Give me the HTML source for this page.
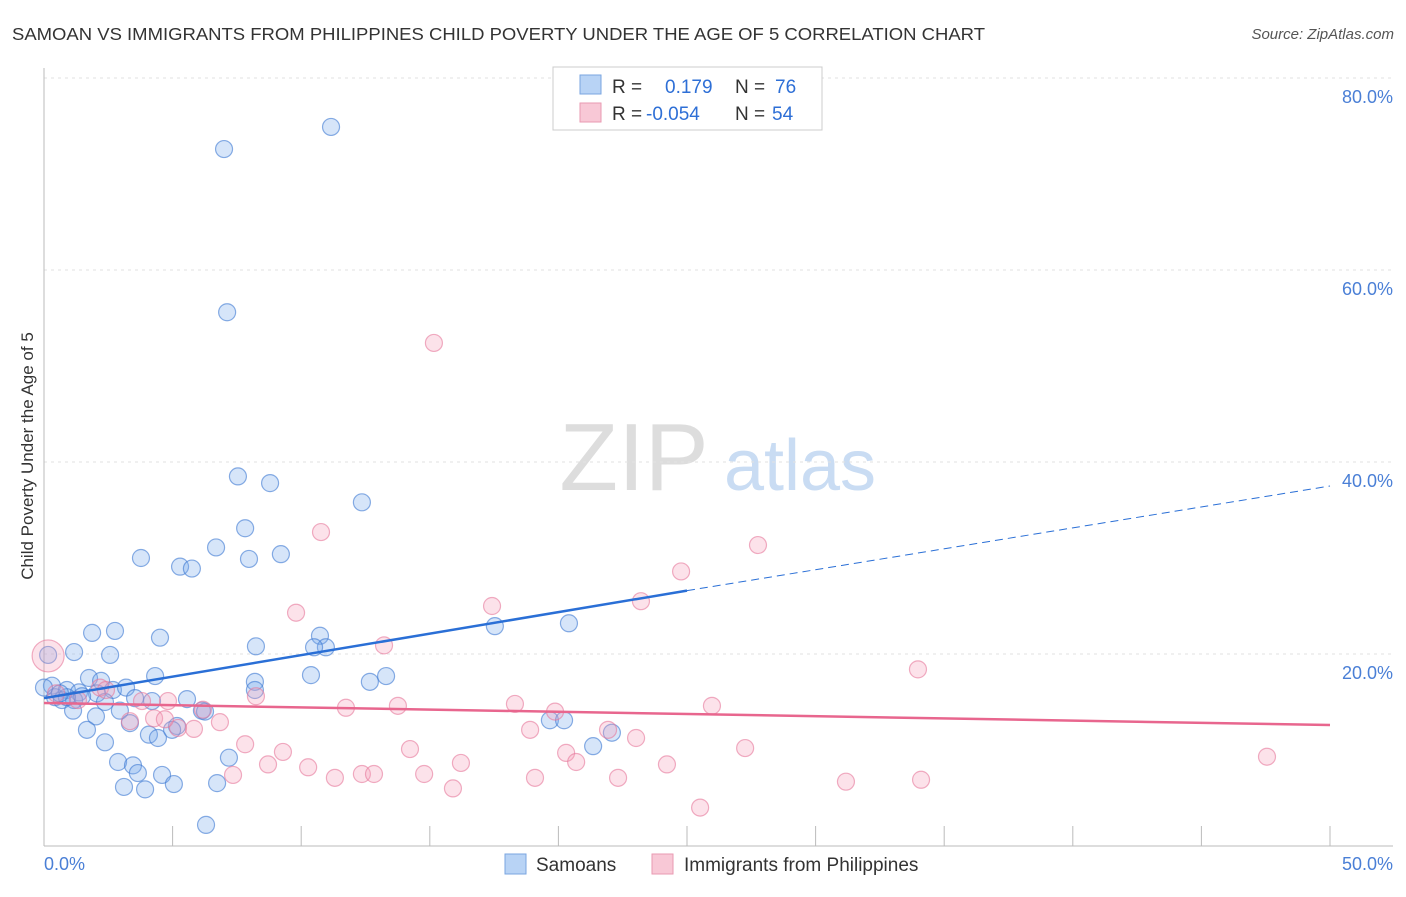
<!DOCTYPE html>
<html><head><meta charset="utf-8"><style>
body{margin:0;background:#fff;font-family:"Liberation Sans",sans-serif}
svg text{font-family:"Liberation Sans",sans-serif}
</style></head><body>
<svg width="1406" height="892" xmlns="http://www.w3.org/2000/svg">
<text x="12" y="40" font-size="17.5" fill="#333" textLength="973" lengthAdjust="spacingAndGlyphs">SAMOAN VS IMMIGRANTS FROM PHILIPPINES CHILD POVERTY UNDER THE AGE OF 5 CORRELATION CHART</text>
<text x="1394" y="39" font-size="15" fill="#555" text-anchor="end" font-style="italic">Source: ZipAtlas.com</text>
<text x="634" y="490" font-size="96" fill="#ddd" font-family="Liberation Serif" text-anchor="middle">ZIP</text>
<text x="800" y="490" font-size="72" fill="#c9dcf3" text-anchor="middle">atlas</text>
<text transform="translate(33,456) rotate(-90)" font-size="17" fill="#333" text-anchor="middle">Child Poverty Under the Age of 5</text>
<g id="grid"></g><g id="marks"></g>
<g>
<rect x="553" y="67" width="269" height="63" fill="#fff" stroke="#ccc"/>
<rect x="580" y="75" width="21" height="19" fill="#b8d3f5" stroke="#7aa6e0"/>
<rect x="580" y="103" width="21" height="19" fill="#f8c8d6" stroke="#e99ab2"/>
<text x="612" y="93" font-size="19" fill="#333">R =</text>
<text x="665" y="93" font-size="19" fill="#2e6fd6">0.179</text>
<text x="735" y="93" font-size="19" fill="#333">N =</text>
<text x="775" y="93" font-size="19" fill="#2e6fd6">76</text>
<text x="612" y="120" font-size="19" fill="#333">R =</text>
<text x="646" y="120" font-size="19" fill="#2e6fd6">-0.054</text>
<text x="735" y="120" font-size="19" fill="#333">N =</text>
<text x="772" y="120" font-size="19" fill="#2e6fd6">54</text>
</g>
<g>
<rect x="505" y="854" width="21" height="20" fill="#b8d3f5" stroke="#7aa6e0"/>
<text x="536" y="871" font-size="19" fill="#333">Samoans</text>
<rect x="652" y="854" width="21" height="20" fill="#f8c8d6" stroke="#e99ab2"/>
<text x="684" y="871" font-size="19" fill="#333">Immigrants from Philippines</text>
</g>
</svg>
<script>
const blueX=[11.16,7.0,7.12,7.54,8.79,12.36,7.82,6.69,3.77,7.97,9.21,5.29,5.75,10.73,10.96,10.5,4.51,2.76,1.87,8.24,17.53,20.41,1.17,2.57,4.32,1.75,2.22,10.38,8.2,12.67,13.3,0.31,0.89,1.36,2.68,3.19,2.06,0.43,0.7,1.17,2.37,3.54,4.2,5.56,6.14,1.13,2.02,2.95,3.34,5.17,1.67,4.08,4.43,2.37,7.19,2.88,3.46,3.65,4.59,3.11,3.93,5.05,6.73,6.3,19.67,20.22,21.35,22.08,0.16,0.0,1.48,4.98,0.89,0.62,6.26,8.2];
const blueY=[74.9,72.6,55.6,38.5,37.8,35.8,33.1,31.1,30.0,29.9,30.4,29.1,28.9,21.9,20.7,20.7,21.7,22.4,22.2,20.8,22.9,23.2,20.2,19.9,17.7,17.5,17.2,17.8,17.1,17.1,17.7,16.7,16.25,16.0,16.25,16.5,15.9,15.5,15.2,15.2,15.0,15.4,15.1,15.3,14.1,14.1,13.5,14.1,12.8,12.5,12.1,11.6,11.25,10.8,9.2,8.75,8.4,7.6,7.4,6.15,5.9,6.45,6.55,2.2,13.1,13.1,10.4,11.8,19.9,16.5,15.6,12.1,15.5,15.9,14.0,16.25];
const pinkX=[15.16,10.77,27.76,24.77,23.21,17.42,9.8,13.22,33.98,0.16,8.24,3.81,4.82,2.18,1.32,6.18,11.74,13.76,18.31,25.97,19.87,4.28,3.34,6.84,5.83,5.21,18.9,21.93,23.02,7.82,9.29,14.23,27.26,20.3,8.71,10.27,16.21,20.69,24.22,7.35,11.31,12.36,12.83,14.78,19.09,22.32,15.9,31.18,34.1,47.55,25.51,4.7,2.41,0.47];
const pinkY=[52.4,32.7,31.35,28.6,25.5,25.0,24.3,20.9,18.4,19.8,15.6,15.1,15.1,16.5,15.2,14.2,14.4,14.6,14.8,14.6,14.0,13.3,13.0,12.9,12.2,12.3,12.1,12.1,11.25,10.6,9.8,10.1,10.2,9.7,8.5,8.2,8.65,8.75,8.5,7.4,7.1,7.5,7.5,7.5,7.1,7.1,6.0,6.7,6.9,9.3,4.0,13.2,16.25,15.9];
const yTicks=[20,40,60,80];
const blueTrend=[0,15.4,25,26.6,50,37.5];
const pinkTrend=[0,14.9,50,12.6];
const NS="http://www.w3.org/2000/svg";
const sx=v=>44+v/50*1286, sy=v=>846-v/20*192;
function mk(t,a,p){const e=document.createElementNS(NS,t);for(const k in a)e.setAttribute(k,a[k]);p.appendChild(e);return e;}
const grid=document.getElementById('grid'),marks=document.getElementById('marks');
yTicks.forEach(t=>{
 const l=mk('line',{x1:44,x2:1393,y1:sy(t),y2:sy(t),stroke:'#e2e2e2','stroke-dasharray':'3,4'},grid);
 
 
 const tx=mk('text',{x:1393,y:sy(t)+25,'font-size':18,fill:'#4a7fd6','text-anchor':'end'},grid);
 tx.textContent=t.toFixed(1)+'%';
 
 
});
for(let i=0;i<=10;i++){const l=mk('line',{x1:sx(i*5),x2:sx(i*5),y1:826,y2:846,stroke:'#bbb'},grid);
 
 }
const ax=mk('line',{x1:44,x2:44,y1:68,y2:846,stroke:'#bbb'},grid);


const bx=mk('line',{x1:44,x2:1393,y1:846,y2:846,stroke:'#bbb'},grid);


[[0,'0.0%',44,'start'],[50,'50.0%',1393,'end']].forEach(a=>{const t=mk('text',{x:a[2],y:870,'font-size':18,fill:'#4a7fd6','text-anchor':a[3]},grid);t.textContent=a[1];
 
 });
blueX.forEach((x,i)=>{const c=mk('circle',{cx:sx(x),cy:sy(blueY[i]),r:8.5,fill:'rgba(120,170,235,0.3)',stroke:'rgba(60,120,210,0.6)','stroke-width':1.2},marks);
 
 });
pinkX.forEach((x,i)=>{const c=mk('circle',{cx:sx(x),cy:sy(pinkY[i]),r:i===9?16:8.5,fill:'rgba(245,160,185,0.3)',stroke:'rgba(230,120,155,0.6)','stroke-width':1.2},marks);
 
 });
const b1=mk('line',{x1:sx(blueTrend[0]),y1:sy(blueTrend[1]),x2:sx(blueTrend[2]),y2:sy(blueTrend[3]),stroke:'#2a6fd6','stroke-width':2.5},marks);


const b2=mk('line',{x1:sx(blueTrend[2]),y1:sy(blueTrend[3]),x2:sx(blueTrend[4]),y2:sy(blueTrend[5]),stroke:'#2a6fd6','stroke-width':1,'stroke-dasharray':'8,5'},marks);


const p1=mk('line',{x1:sx(pinkTrend[0]),y1:sy(pinkTrend[1]),x2:sx(pinkTrend[2]),y2:sy(pinkTrend[3]),stroke:'#e8668e','stroke-width':2.5},marks);


</script>
</body></html>
